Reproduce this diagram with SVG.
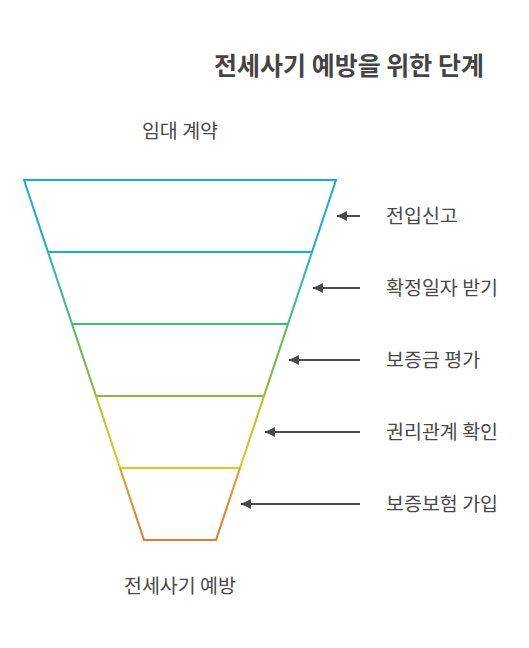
<svg xmlns="http://www.w3.org/2000/svg" width="529" height="648" viewBox="0 0 529 648">
<style>
.t{font-family:"Noto Sans CJK KR","Noto Sans",sans-serif;fill:#484848}
.lbl{font-size:19.5px}
.ttl{font-size:25px;font-weight:bold;fill:#444}
.seg{fill:none;stroke-width:2;stroke-linejoin:miter}
.arr{stroke:#474747;stroke-width:2;fill:none}
</style>
<defs>
<marker id="ah" markerWidth="12" markerHeight="12" refX="10" refY="5" orient="auto" markerUnits="userSpaceOnUse">
<path d="M0,0 L10,5 L0,10 Z" fill="#474747"/>
</marker>
<linearGradient id="g2" x1="0" y1="252" x2="0" y2="324" gradientUnits="userSpaceOnUse"><stop offset="0" stop-color="#2cb7b0"/><stop offset="1" stop-color="#3dbd78"/></linearGradient>
<linearGradient id="g3" x1="0" y1="324" x2="0" y2="396" gradientUnits="userSpaceOnUse"><stop offset="0" stop-color="#55b95a"/><stop offset="1" stop-color="#8bb83a"/></linearGradient>
<linearGradient id="g4" x1="0" y1="396" x2="0" y2="468" gradientUnits="userSpaceOnUse"><stop offset="0" stop-color="#b8c02a"/><stop offset="1" stop-color="#e3c812"/></linearGradient>
<linearGradient id="g5" x1="0" y1="468" x2="0" y2="540" gradientUnits="userSpaceOnUse"><stop offset="0" stop-color="#e0a02a"/><stop offset="1" stop-color="#e07a30"/></linearGradient>
</defs>
<text class="t ttl" x="484" y="75" text-anchor="end">전세사기 예방을 위한 단계</text>
<g id="funnel">
<g id="seg1"><polygon class="seg" points="24,180 336,180 312,252 48,252" stroke="#1ea8d8"/></g>
<g id="seg2"><path class="seg" d="M48,252 L72,324 M312,252 L288,324" stroke="url(#g2)"/><line x1="72" y1="324" x2="288" y2="324" stroke="#3dbd78" stroke-width="2"/></g>
<g id="seg3"><path class="seg" d="M72,324 L96,396 M288,324 L264,396" stroke="url(#g3)"/><line x1="96" y1="396" x2="264" y2="396" stroke="#8bb83a" stroke-width="2"/></g>
<g id="seg4"><path class="seg" d="M96,396 L120,468 M264,396 L240,468" stroke="url(#g4)"/><line x1="120" y1="468" x2="240" y2="468" stroke="#e3c812" stroke-width="2"/></g>
<g id="seg5"><path class="seg" d="M120,468 L144,540 L216,540 L240,468" stroke="url(#g5)"/></g>
</g>
<g id="connectors">
<line class="arr" x1="360" y1="216" x2="337" y2="216" marker-end="url(#ah)"/>
<line class="arr" x1="360" y1="288" x2="313" y2="288" marker-end="url(#ah)"/>
<line class="arr" x1="360" y1="360" x2="289" y2="360" marker-end="url(#ah)"/>
<line class="arr" x1="360" y1="432" x2="265" y2="432" marker-end="url(#ah)"/>
<line class="arr" x1="360" y1="504" x2="241" y2="504" marker-end="url(#ah)"/>
</g>
<g id="top-label"><text class="t lbl" x="180" y="138" text-anchor="middle">임대 계약</text></g>
<g id="bottom-label"><text class="t lbl" x="180" y="593" text-anchor="middle">전세사기 예방</text></g>
<g id="n1"><text class="t lbl" x="386" y="223">전입신고</text></g>
<g id="n2"><text class="t lbl" x="386" y="295">확정일자 받기</text></g>
<g id="n3"><text class="t lbl" x="386" y="367">보증금 평가</text></g>
<g id="n4"><text class="t lbl" x="386" y="439">권리관계 확인</text></g>
<g id="n5"><text class="t lbl" x="386" y="511">보증보험 가입</text></g>
</svg>
